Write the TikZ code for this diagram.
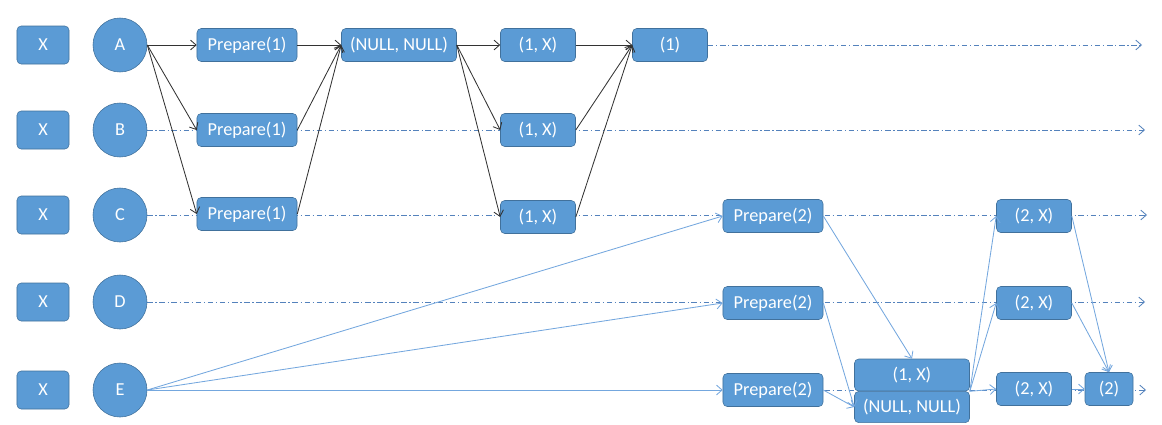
\documentclass[tikz,border=0pt]{standalone}
\usepackage{fontspec}
\setmainfont{Carlito}
\usetikzlibrary{arrows.meta, positioning, backgrounds}

\definecolor{boxblue}{RGB}{91,155,213}
\definecolor{edgeblue}{RGB}{65,113,156}
\definecolor{lineblue}{RGB}{84,130,188}
\definecolor{linkblue}{RGB}{116,167,222}

\begin{document}
\begin{tikzpicture}[x=0.025cm, y=-0.025cm,
  every node/.style={font=\fontsize{13}{15}\selectfont, text=white},
  blk/.style={draw=edgeblue, fill=boxblue, rounded corners=3pt, inner sep=0pt, minimum height=0.825cm},
  slot/.style={blk, minimum width=1.3cm, minimum height=0.95cm},
  wide/.style={blk, minimum width=2.5cm},
  pair/.style={blk, minimum width=2.875cm},
  mid/.style={blk, minimum width=1.875cm},
  proc/.style={circle, draw=edgeblue, fill=boxblue, minimum size=1.35cm, inner sep=0pt},
  tip/.style={-{Straight Barb[length=4pt, width=7pt]}},
  timeline/.style={tip, draw=lineblue, line width=0.6pt, dash pattern=on 4pt off 1.8pt on 1pt off 1.8pt},
  msg/.style={tip, black!80, line width=0.6pt},
  reply/.style={tip, linkblue, line width=0.6pt}]
\useasboundingbox (0,0) rectangle (1162,424);

% Slots and processes
\foreach \p/\y in {A/45, B/130, C/215, D/302, E/390} {
  \node[slot] (x\p) at (43,\y) {X};
  \node[proc] (\p) at (120,\y) {\p};
}

% Round 1
\node[wide] (prepA) at (247,45) {Prepare(1)};
\node[wide] (prepB) at (247,130) {Prepare(1)};
\node[wide] (prepC) at (247,214) {Prepare(1)};
\node[pair] (nullA) at (399,45) {(NULL, NULL)};
\node[mid] (accA) at (538,45) {(1, X)};
\node[mid] (accB) at (538,130) {(1, X)};
\node[mid] (accC) at (538,217) {(1, X)};
\node[mid] (doneA) at (670,45) {(1)};

% Round 2
\node[wide] (prepTwoC) at (773,216) {Prepare(2)};
\node[wide] (prepTwoD) at (773,303) {Prepare(2)};
\node[wide] (prepTwoE) at (773,390) {Prepare(2)};
\node[pair, minimum height=0.8cm] (accE) at (912,375) {(1, X)};
\node[pair, minimum height=0.78cm] (nullE) at (912,407) {(NULL, NULL)};
\node[mid] (twoC) at (1034,216) {(2, X)};
\node[mid] (twoD) at (1034,303) {(2, X)};
\node[mid] (twoE) at (1034,389) {(2, X)};
\node[blk, minimum width=1.2cm] (doneE) at (1109,389) {(2)};

% Time lines
\coordinate (endA) at (1142,45);
\coordinate (endB) at (1145,130);
\coordinate (endC) at (1147,215);
\coordinate (endD) at (1145,302);
\coordinate (endE) at (1146,389);
\begin{scope}[on background layer]
\draw[timeline] (doneA.east) -- (endA);
\foreach \p in {B, C, D} \draw[timeline] (\p.east) -- (end\p);
\draw[timeline] (E.east) -- (endE |- E.east);
\end{scope}

% Round 1 messages
\foreach \t in {prepA, prepB, prepC} {
  \draw[msg] (A.east) -- (\t.west);
  \draw[msg] (\t.east) -- (nullA.west);
}
\foreach \t in {accA, accB, accC} {
  \draw[msg] (nullA.east) -- (\t.west);
  \draw[msg] (\t.east) -- (doneA.west);
}

% Round 2 messages
\foreach \t in {prepTwoC, prepTwoD, prepTwoE} \draw[reply] (E.east) -- (\t.west);
\draw[reply] (prepTwoC.east) -- (accE.north);
\draw[reply] (prepTwoD.east) -- (nullE.west);
\draw[reply] (prepTwoE.east) -- (nullE.west);
\foreach \t in {twoC, twoD, twoE} \draw[reply] (accE.south east) -- (\t.west);
\draw[reply] (twoC.east) -- (doneE.north);
\draw[reply] (twoD.east) -- (doneE.north);
\draw[reply] (twoE.east) -- (doneE.west);
\end{tikzpicture}
\end{document}
